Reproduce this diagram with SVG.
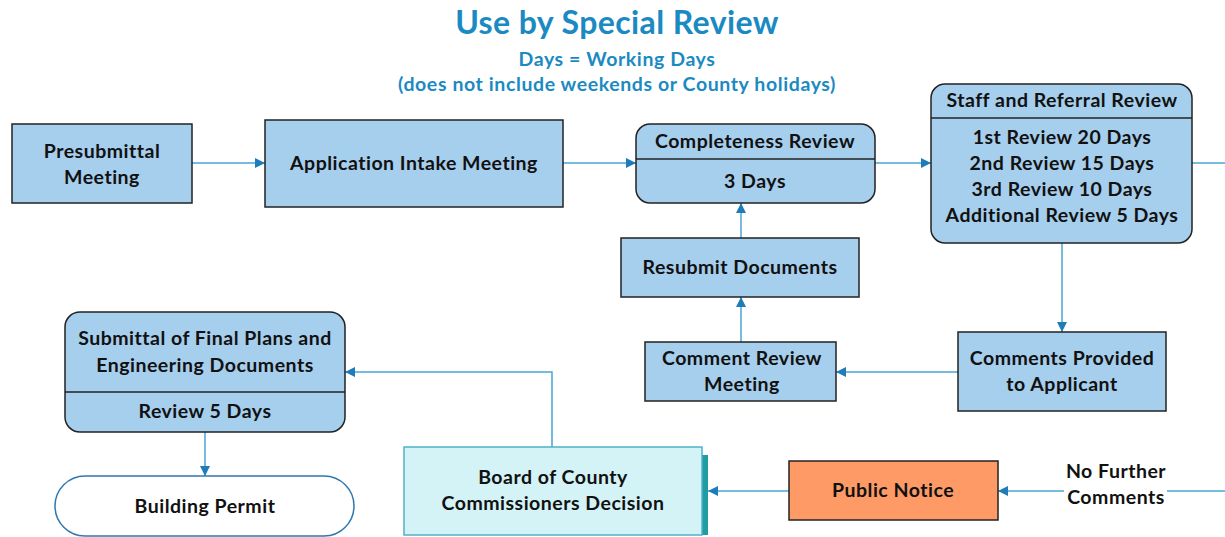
<svg xmlns="http://www.w3.org/2000/svg" width="1225" height="537" viewBox="0 0 1225 537">
<style>
text{font-family:Lato,"Open Sans","Liberation Sans",sans-serif;font-weight:bold;text-anchor:middle;fill:#111}
.t{fill:#1B8AC2}
.n{fill:#A6CEED;stroke:#222;stroke-width:1.5}
.c{fill:none;stroke:#4AA5D4;stroke-width:1.5}
.d{stroke:#222;stroke-width:1.5}
.l{font-size:19.5px;letter-spacing:0.5px}
</style>
<defs>
<marker id="a" viewBox="0 0 10 10" refX="10" refY="5" markerWidth="10" markerHeight="10" markerUnits="userSpaceOnUse" orient="auto">
<path d="M0,0 L10,5 L0,10 z" fill="#1E7DB8"/>
</marker>
</defs>
<rect width="1225" height="537" fill="#fff"/>
<g id="title">
<text class="t" x="617" y="34" font-size="32" letter-spacing="0.4">Use by Special Review</text>
<text class="t" x="617" y="66" font-size="19.5" letter-spacing="0.6">Days = Working Days</text>
<text class="t" x="617" y="91" font-size="19.5" letter-spacing="0.6">(does not include weekends or County holidays)</text>
</g>
<g id="connectors">
<path class="c" d="M192,163 H265" marker-end="url(#a)"/>
<path class="c" d="M563,163 H636" marker-end="url(#a)"/>
<path class="c" d="M875,163 H931" marker-end="url(#a)"/>
<path class="c" d="M1192,163 H1225"/>
<path class="c" d="M1062,243 V332" marker-end="url(#a)"/>
<path class="c" d="M958,372 H836" marker-end="url(#a)"/>
<path class="c" d="M741,342 V297" marker-end="url(#a)"/>
<path class="c" d="M741,238 V203" marker-end="url(#a)"/>
<path class="c" d="M552,447 V372 H345" marker-end="url(#a)"/>
<path class="c" d="M205,432 V476" marker-end="url(#a)"/>
<path class="c" d="M789,491 H708" marker-end="url(#a)"/>
<path class="c" d="M1225,491 H998" marker-end="url(#a)"/>
<rect x="1064" y="462" width="103" height="50" fill="#fff"/>
<text class="l" x="1116" y="478">No Further</text>
<text class="l" x="1116" y="504">Comments</text>
</g>
<g id="presubmittal">
<rect class="n" x="12" y="124" width="180" height="79"/>
<text class="l" x="102" y="158">Presubmittal</text>
<text class="l" x="102" y="184">Meeting</text>
</g>
<g id="intake">
<rect class="n" x="265" y="120" width="298" height="87"/>
<text class="l" x="414" y="170">Application Intake Meeting</text>
</g>
<g id="completeness">
<rect class="n" x="636" y="124" width="239" height="79" rx="14"/>
<line class="d" x1="636" y1="159" x2="875" y2="159"/>
<text class="l" x="755" y="148">Completeness Review</text>
<text class="l" x="755" y="188">3 Days</text>
</g>
<g id="staff">
<rect class="n" x="931" y="84" width="261" height="159" rx="14"/>
<line class="d" x1="931" y1="118" x2="1192" y2="118"/>
<text class="l" x="1062" y="107">Staff and Referral Review</text>
<text class="l" x="1062" y="144">1st Review 20 Days</text>
<text class="l" x="1062" y="170">2nd Review 15 Days</text>
<text class="l" x="1062" y="196">3rd Review 10 Days</text>
<text class="l" x="1062" y="222">Additional Review 5 Days</text>
</g>
<g id="resubmit">
<rect class="n" x="621" y="238" width="238" height="59"/>
<text class="l" x="740" y="274">Resubmit Documents</text>
</g>
<g id="commentreview">
<rect class="n" x="645" y="342" width="191" height="59"/>
<text class="l" x="742" y="365">Comment Review</text>
<text class="l" x="742" y="391">Meeting</text>
</g>
<g id="commentsprovided">
<rect class="n" x="958" y="332" width="208" height="79"/>
<text class="l" x="1062" y="365">Comments Provided</text>
<text class="l" x="1062" y="391">to Applicant</text>
</g>
<g id="submittal">
<rect class="n" x="65" y="312" width="280" height="120" rx="15"/>
<line class="d" x1="65" y1="392" x2="345" y2="392"/>
<text class="l" x="205" y="345">Submittal of Final Plans and</text>
<text class="l" x="205" y="372">Engineering Documents</text>
<text class="l" x="205" y="418">Review 5 Days</text>
</g>
<g id="permit">
<rect x="55" y="476" width="299" height="60" rx="30" fill="#fff" stroke="#2E78B0" stroke-width="1.5"/>
<text class="l" x="205" y="513">Building Permit</text>
</g>
<g id="board">
<rect x="702" y="455" width="6" height="80" fill="#1E9DA3"/>
<rect x="404" y="447" width="298" height="88" fill="#D3F3F7" stroke="#4FB3C8" stroke-width="1.5"/>
<text class="l" x="553" y="484">Board of County</text>
<text class="l" x="553" y="510">Commissioners Decision</text>
</g>
<g id="publicnotice">
<rect x="789" y="461" width="209" height="59" fill="#FE9A66" stroke="#222" stroke-width="1.5"/>
<text class="l" x="893" y="497">Public Notice</text>
</g>
</svg>
